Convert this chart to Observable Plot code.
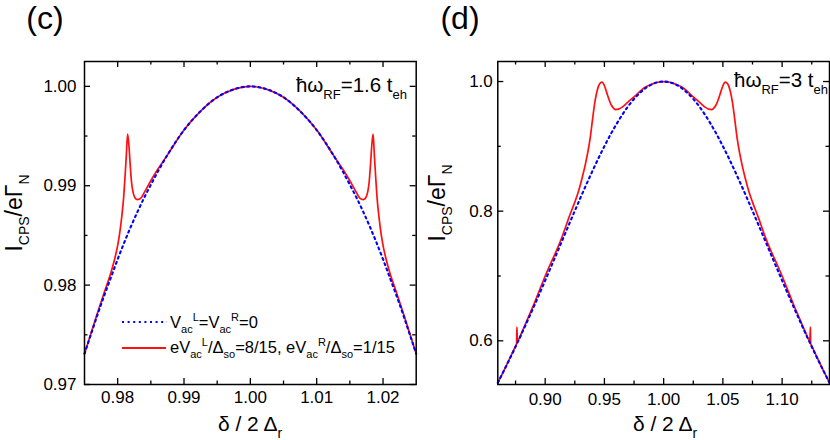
<!DOCTYPE html>
<html><head><meta charset="utf-8">
<script src="https://cdn.jsdelivr.net/npm/d3@7"></script>
<script src="https://cdn.jsdelivr.net/npm/@observablehq/plot@0.6"></script>
<style>
html,body{margin:0;padding:0;background:#fff;}
#wrap{position:relative;width:830px;height:440px;overflow:hidden;background:#fff;}
#wrap svg{position:absolute;top:0;}
</style></head><body><div id="wrap"></div>
<script>
// ---------- Panel (c) data ----------
const cBlueX = [0.975,0.976,0.977,0.978,0.979,0.980,0.981,0.982,0.983,0.984,0.985,0.9875,0.990,0.9925,0.995,0.9975,1.000,1.0025,1.005,1.0075,1.010,1.0125,1.015,1.016,1.017,1.018,1.019,1.020,1.021,1.022,1.023,1.024,1.025];
const cBlueY = [0.9731,0.9751,0.9771,0.9790,0.9808,0.9826,0.9843,0.9859,0.9874,0.9888,0.9901,0.9931,0.9956,0.9975,0.9989,0.9997,1.0000,0.9997,0.9989,0.9975,0.9956,0.9931,0.9901,0.9888,0.9874,0.9859,0.9843,0.9826,0.9808,0.9790,0.9771,0.9751,0.9731];
const cRedX = [0.975,0.976,0.977,0.978,0.979,0.9795,0.980,0.9803,0.9806,0.9809,0.9811,0.9813,0.9815,0.9817,0.9819,0.9821,0.9823,0.9826,0.9830,0.9835,0.9840,0.9850,0.9860,0.9870,
  0.9875,0.990,0.9925,0.995,0.9975,1.000,1.0025,1.005,1.0075,1.010,1.0125,
  1.0130,1.0140,1.0150,1.0160,1.0165,1.0170,1.0174,1.0177,1.0179,1.0181,1.0183,1.0185,1.0187,1.0189,1.0191,1.0194,1.0197,1.0200,1.0205,1.0210,1.0220,1.0230,1.0240,1.0250];
const cRedY = [0.9731,0.9752,0.9773,0.9793,0.9813,0.9825,0.9840,0.9852,0.9868,0.9888,0.9908,0.9930,0.9952,0.9940,0.9920,0.9903,0.9894,0.9888,0.9886,0.98875,0.9893,0.9905,0.9916,0.9926,
  0.9931,0.9956,0.9975,0.9989,0.9997,1.0000,0.9997,0.9989,0.9975,0.9956,0.9931,
  0.9926,0.9916,0.9905,0.9893,0.98875,0.9886,0.9888,0.9894,0.9903,0.9920,0.9940,0.9952,0.9930,0.9908,0.9888,0.9868,0.9852,0.9840,0.9825,0.9813,0.9793,0.9773,0.9752,0.9731];
const cXTicks = [0.98,0.99,1.00,1.01,1.02];
const cXTickLabels = ["0.98","0.99","1.00","1.01","1.02"];
const cXMinor = [0.985,0.995,1.005,1.015];
const cYTicks = [0.97,0.98,0.99,1.00];
const cYTickLabels = ["0.97","0.98","0.99","1.00"];
const cYMinor = [0.975,0.985,0.995];

// ---------- Panel (d) data ----------
const dBlueX = [0.86,0.865,0.87,0.875,0.88,0.885,0.89,0.895,0.90,0.905,0.91,0.915,0.92,0.925,0.93,0.935,0.94,0.945,0.95,0.955,0.96,0.965,0.97,0.975,0.98,0.985,0.99,0.995,1.00,
  1.005,1.01,1.015,1.02,1.025,1.03,1.035,1.04,1.045,1.05,1.055,1.06,1.065,1.07,1.075,1.08,1.085,1.09,1.095,1.10,1.105,1.11,1.115,1.12,1.125,1.13,1.135,1.14];
const dBlueY = [0.5352,0.5533,0.5719,0.5909,0.6105,0.6306,0.6510,0.6719,0.6930,0.7144,0.7359,0.7575,0.7791,0.8005,0.8216,0.8423,0.8624,0.8818,0.9003,0.9177,0.9338,0.9485,0.9617,0.9731,0.9826,0.9901,0.9956,0.9989,1.0000,
  0.9989,0.9956,0.9901,0.9826,0.9731,0.9617,0.9485,0.9338,0.9177,0.9003,0.8818,0.8624,0.8423,0.8216,0.8005,0.7791,0.7575,0.7359,0.7144,0.6930,0.6719,0.6510,0.6306,0.6105,0.5909,0.5719,0.5533,0.5352];
const dRedX = [0.860,0.865,0.870,0.8755,0.8759,0.8761,0.8765,0.8772,0.880,0.885,0.890,0.895,0.900,0.905,0.910,0.915,0.920,0.925,0.928,0.931,0.934,0.936,0.938,0.940,0.942,0.944,0.946,0.948,0.950,0.952,0.954,0.956,0.958,0.9595,0.962,0.965,0.968,0.972,0.976,0.980,0.985,0.990,0.995,1.000,
  1.005,1.010,1.015,1.020,1.024,1.028,1.032,1.035,1.038,1.0405,1.042,1.044,1.046,1.048,1.050,1.052,1.054,1.056,1.058,1.060,1.062,1.064,1.066,1.069,1.072,1.075,1.080,1.085,1.090,1.095,1.100,1.105,1.110,1.115,1.120,1.1228,1.1235,1.1239,1.1241,1.1245,1.130,1.135,1.140];
const dRedY = [0.5350,0.5535,0.5725,0.5942,0.5958,0.6210,0.6040,0.6012,0.6120,0.6330,0.6545,0.6770,0.7000,0.7210,0.7410,0.7640,0.7900,0.8140,0.8300,0.8500,0.8730,0.8910,0.9130,0.9420,0.9690,0.9870,0.9965,0.9990,0.9935,0.9825,0.9715,0.9630,0.9583,0.9568,0.9575,0.9605,0.9652,0.9717,0.9780,0.9848,0.9918,0.9960,0.9989,1.0000,
  0.9989,0.9960,0.9918,0.9848,0.9780,0.9717,0.9652,0.9605,0.9575,0.9568,0.9583,0.9630,0.9715,0.9825,0.9935,0.9990,0.9965,0.9870,0.9690,0.9420,0.9130,0.8910,0.8730,0.8500,0.8300,0.8140,0.7900,0.7640,0.7410,0.7210,0.7000,0.6770,0.6545,0.6330,0.6120,0.6012,0.6040,0.6210,0.5958,0.5942,0.5725,0.5535,0.5350];
const dXTicks = [0.90,0.95,1.00,1.05,1.10];
const dXTickLabels = ["0.90","0.95","1.00","1.05","1.10"];
const dXMinor = [0.875,0.925,0.975,1.025,1.075,1.125];
const dYTicks = [0.6,0.8,1.0];
const dYTickLabels = ["0.6","0.8","1.0"];
const dYMinor = [0.7,0.9];

// ---------- Text ----------
const legendBlue = [["V",0],["ac","sub"],["L","sup"],["=V",0],["ac","sub"],["R","sup"],["=0",0]];
const legendRed = [["eV",0],["ac","sub"],["L","sup"],["/Δ",0],["so","sub"],["=8/15, eV",0],["ac","sub"],["R","sup"],["/Δ",0],["so","sub"],["=1/15",0]];
const annC = [["ħω",0],["RF","sub"],["=1.6 t",0],["eh","sub"]];
const annD = [["ħω",0],["RF","sub"],["=3 t",0],["eh","sub"]];
const xLabel = [["δ / 2 Δ",0],["r","sub"]];
const yLabel = [["I",0],["CPS","sub"],["/eΓ",0],["N","sub"]];

const FONT = "Liberation Sans, Arial, Helvetica, sans-serif";
const RED = "#ff1010", BLUE = "#0000ff";
const H = 440, MT = 61, MB = 56, FH = H - MT - MB;

const toRows = (xs, ys) => xs.map((x, i) => ({x, y: ys[i]}));

function rich(svg, o, parts) {
  const t = d3.select(svg).append("text")
    .attr("font-family", FONT).attr("font-size", o.size)
    .attr("text-anchor", o.anchor || "start").attr("fill", "black");
  if (o.rotate) t.attr("transform", `translate(${o.x},${o.y}) rotate(-90)`);
  else t.attr("x", o.x).attr("y", o.y);
  let cur = 0;
  for (const [s, k] of parts) {
    const off = k === "sub" ? o.subDy : k === "sup" ? -o.supDy : 0;
    const ts = t.append("tspan").attr("dy", off - cur).text(s);
    if (k) ts.attr("font-size", o.subSize);
    cur = off;
  }
}

function panel({width, ml, mr, xDomain, yDomain, blue, red, xT, xTL, xM, yT, yTL, yM, xPad, yPad}) {
  const FW = width - ml - mr;
  const tk = {stroke: "black", strokeWidth: 1.3};
  return Plot.plot({
    width, height: H, marginLeft: ml, marginRight: mr, marginTop: MT, marginBottom: MB,
    x: {domain: xDomain}, y: {domain: yDomain},
    style: {fontFamily: FONT, fontSize: "17px", background: "transparent", overflow: "visible", color: "black"},
    marks: [
      Plot.line(red, {x: "x", y: "y", stroke: RED, strokeWidth: 1.7, curve: "monotone-x"}),
      Plot.line(blue, {x: "x", y: "y", stroke: BLUE, strokeWidth: 2.1, strokeDasharray: "2,3.6", curve: "monotone-x"}),
      Plot.tickX(xT, {x: d => d, insetTop: FH - 6, ...tk}),
      Plot.tickX(xT, {x: d => d, insetBottom: FH - 6, ...tk}),
      Plot.tickX(xM, {x: d => d, insetTop: FH - 3.5, ...tk}),
      Plot.tickX(xM, {x: d => d, insetBottom: FH - 3.5, ...tk}),
      Plot.tickY(yT, {y: d => d, insetRight: FW - 6, ...tk}),
      Plot.tickY(yT, {y: d => d, insetLeft: FW - 6, ...tk}),
      Plot.tickY(yM, {y: d => d, insetRight: FW - 3.5, ...tk}),
      Plot.tickY(yM, {y: d => d, insetLeft: FW - 3.5, ...tk}),
      Plot.axisX({ticks: xT, tickSize: 0, tickPadding: xPad, tickFormat: d => xTL[xT.indexOf(d)], label: null, fontSize: 17}),
      Plot.axisY({ticks: yT, tickSize: 0, tickPadding: yPad, tickFormat: d => yTL[yT.indexOf(d)], label: null, fontSize: 17}),
      Plot.frame({stroke: "black", strokeWidth: 1.5})
    ]
  });
}

const wrap = document.getElementById("wrap");

// Panel (c)
const svgC = panel({width: 420, ml: 84, mr: 4.3, xDomain: [0.975, 1.025], yDomain: [0.97, 1.0025],
  blue: toRows(cBlueX, cBlueY), red: toRows(cRedX, cRedY),
  xT: cXTicks, xTL: cXTickLabels, xM: cXMinor, yT: cYTicks, yTL: cYTickLabels, yM: cYMinor, xPad: 6, yPad: 8});
svgC.style.left = "0px";
wrap.appendChild(svgC);

// Panel (d)
const svgD = panel({width: 410, ml: 77.3, mr: 1, xDomain: [0.86, 1.14], yDomain: [0.5326, 1.0309],
  blue: toRows(dBlueX, dBlueY), red: toRows(dRedX, dRedY),
  xT: dXTicks, xTL: dXTickLabels, xM: dXMinor, yT: dYTicks, yTL: dYTickLabels, yM: dYMinor, xPad: 8, yPad: 5});
svgD.style.left = "420px";
wrap.appendChild(svgD);

// Panel letters
d3.select(svgC).append("text").attr("x", 45).attr("y", 29).attr("font-family", FONT).attr("font-size", 32).text("(c)");
d3.select(svgD).append("text").attr("x", 40).attr("y", 29).attr("font-family", FONT).attr("font-size", 32).text("(d)");

// Annotations
rich(svgC, {x: 407, y: 92, anchor: "end", size: 20.5, subSize: 13, subDy: 7, supDy: 7}, annC);
rich(svgD, {x: 408, y: 87, anchor: "end", size: 20.5, subSize: 13, subDy: 7, supDy: 7}, annD);

// Axis titles
rich(svgC, {x: 250, y: 431, anchor: "middle", size: 21, subSize: 14, subDy: 7, supDy: 7}, xLabel);
rich(svgD, {x: 245, y: 431, anchor: "middle", size: 21, subSize: 14, subDy: 7, supDy: 7}, xLabel);
rich(svgC, {x: 22, y: 213, anchor: "middle", size: 23, subSize: 14, subDy: 7, supDy: 7, rotate: true}, yLabel);
rich(svgD, {x: 25, y: 203, anchor: "middle", size: 23, subSize: 14, subDy: 7, supDy: 7, rotate: true}, yLabel);

// Legend (panel c)
const gC = d3.select(svgC);
gC.append("line").attr("x1", 122).attr("x2", 167).attr("y1", 322).attr("y2", 322)
  .attr("stroke", BLUE).attr("stroke-width", 2.1).attr("stroke-dasharray", "2,3.6");
gC.append("line").attr("x1", 122).attr("x2", 166).attr("y1", 348).attr("y2", 348)
  .attr("stroke", RED).attr("stroke-width", 1.9);
rich(svgC, {x: 170, y: 328, size: 16.5, subSize: 11, subDy: 5, supDy: 7}, legendBlue);
rich(svgC, {x: 170, y: 353, size: 16.5, subSize: 11, subDy: 5, supDy: 7}, legendRed);
</script></body></html>
